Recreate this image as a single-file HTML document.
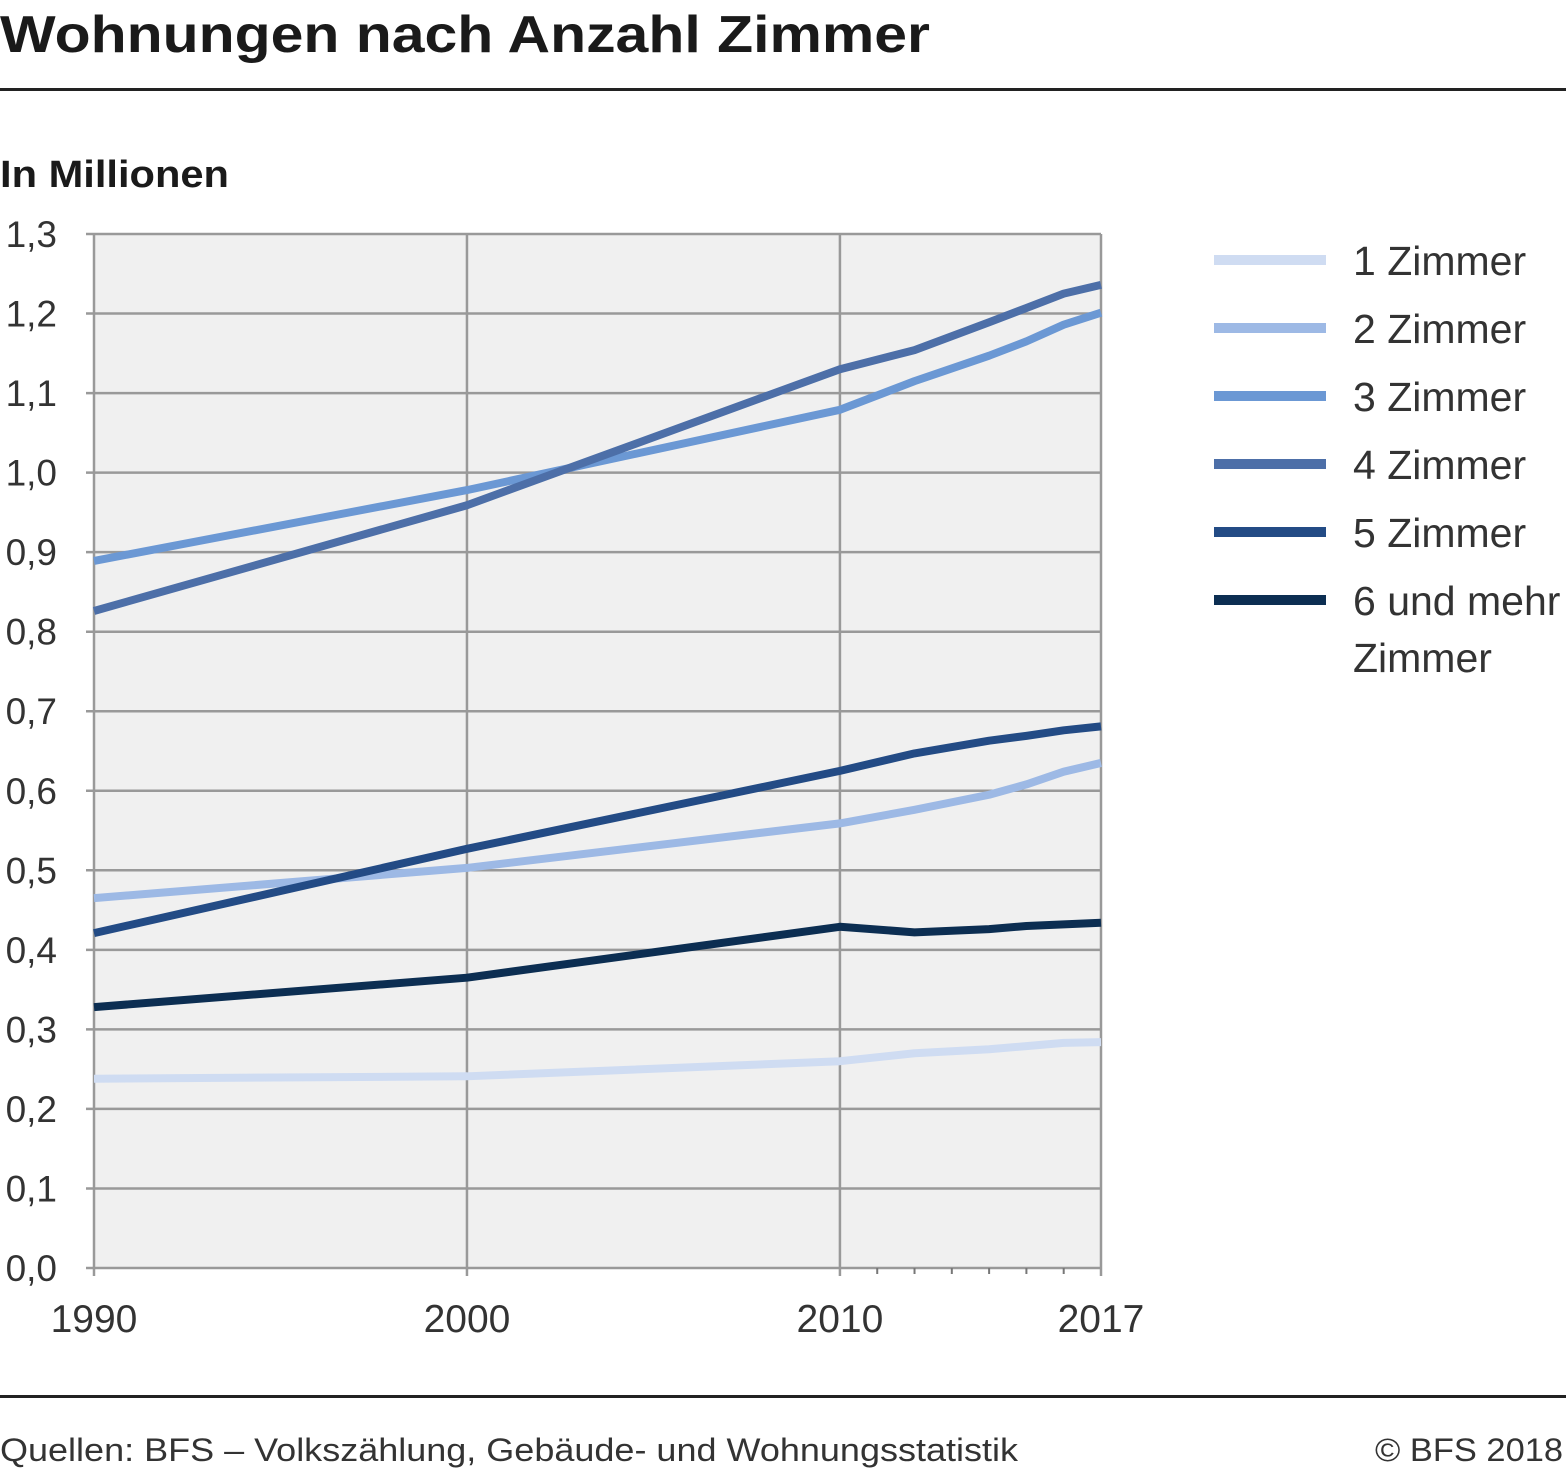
<!DOCTYPE html>
<html><head><meta charset="utf-8"><style>
body{margin:0;background:#fff;width:1566px;height:1471px;overflow:hidden;font-family:"Liberation Sans",sans-serif;}
svg text{font-family:"Liberation Sans",sans-serif;}
</style></head><body>
<svg width="1566" height="1471">
<text x="0" y="52" font-size="52" font-weight="bold" fill="#1a1a1a" textLength="930" lengthAdjust="spacingAndGlyphs">Wohnungen nach Anzahl Zimmer</text>
<rect x="0" y="88" width="1566" height="3" fill="#222"/>
<text x="0" y="187" font-size="38" font-weight="bold" fill="#1a1a1a" textLength="229" lengthAdjust="spacingAndGlyphs">In Millionen</text>
<rect x="94" y="234" width="1007" height="1034" fill="#f0f0f0"/>
<g id="grid"></g><g id="lines"></g><g id="legend"></g>
<rect x="0" y="1395" width="1566" height="3" fill="#222"/>
<text x="0" y="1461" font-size="32" fill="#333" textLength="1018" lengthAdjust="spacingAndGlyphs">Quellen: BFS – Volkszählung, Gebäude- und Wohnungsstatistik</text>
<text x="1375" y="1461" font-size="32" fill="#333" textLength="188" lengthAdjust="spacingAndGlyphs">© BFS 2018</text>
</svg>
<script>
const years=[1990,2000,2010,2012,2014,2015,2016,2017];
const names=["1 Zimmer","2 Zimmer","3 Zimmer","4 Zimmer","5 Zimmer","6 und mehr"];
const s1=[0.238,0.241,0.260,0.270,0.275,0.279,0.283,0.284];
const s2=[0.465,0.503,0.559,0.576,0.595,0.608,0.624,0.635];
const s3=[0.889,0.978,1.079,1.115,1.147,1.165,1.186,1.201];
const s4=[0.826,0.959,1.130,1.154,1.189,1.207,1.225,1.236];
const s5=[0.421,0.527,0.625,0.647,0.663,0.669,0.676,0.681];
const s6=[0.328,0.365,0.429,0.422,0.426,0.430,0.432,0.434];
const yTicks=[0,0.1,0.2,0.3,0.4,0.5,0.6,0.7,0.8,0.9,1.0,1.1,1.2,1.3];
const xLabels=[1990,2000,2010,2017];
const colors=["#cfdcf2","#9db9e5","#6b98d4","#4d6fa8","#234b85","#0c2e52"];
const NS="http://www.w3.org/2000/svg";
const X=y=>94+(y-1990)*(1007/27);
const Y=v=>1268-v*(1034/1.3);
function mk(t,a,p){const e=document.createElementNS(NS,t);for(const k in a)e.setAttribute(k,a[k]);p.appendChild(e);return e;}
const g=document.getElementById('grid');
yTicks.forEach(v=>{
 const l=mk('line',{x1:86,x2:1101,y1:Y(v),y2:Y(v),stroke:'#999','stroke-width':2.5},g);
 
 
 const t=mk('text',{x:57,y:Y(v)+13,'font-size':37,fill:'#333','text-anchor':'end'},g);
 t.textContent=v.toFixed(1).replace('.',',');
 
 
});
[1990,2000,2010,2017].forEach(y=>{
 const l=mk('line',{x1:X(y),x2:X(y),y1:234,y2:1276,stroke:'#999','stroke-width':2.5},g);
 
 
});
for(let y=2011;y<2017;y++){const l=mk('line',{x1:X(y),x2:X(y),y1:1268,y2:1274,stroke:'#777','stroke-width':2},g);
 
 }
xLabels.forEach(y=>{
 const t=mk('text',{x:X(y),y:1332,'font-size':39,fill:'#333','text-anchor':'middle'},g);
 t.textContent=y;
 
 
});
const series=[s1,s2,s3,s4,s5,s6];
const lg=document.getElementById('lines');
series.forEach((s,i)=>{
 const p=mk('polyline',{points:s.map((v,j)=>X(years[j])+','+Y(v)).join(' '),fill:'none',stroke:colors[i],'stroke-width':8,'stroke-linejoin':'round'},lg);
 
 
});
const leg=document.getElementById('legend');
names.forEach((n,i)=>{
 const y=260+i*68;
 const r=mk('rect',{x:1214,y:y-5,width:112,height:10,fill:colors[i]},leg);
 
 
 const t=mk('text',{x:1353,y:y+15,'font-size':41,fill:'#333'},leg);
 t.textContent=n;
 
 
});
const t2=mk('text',{x:1353,y:672,'font-size':41,fill:'#333'},leg);
t2.textContent='Zimmer';


</script>
</body></html>
